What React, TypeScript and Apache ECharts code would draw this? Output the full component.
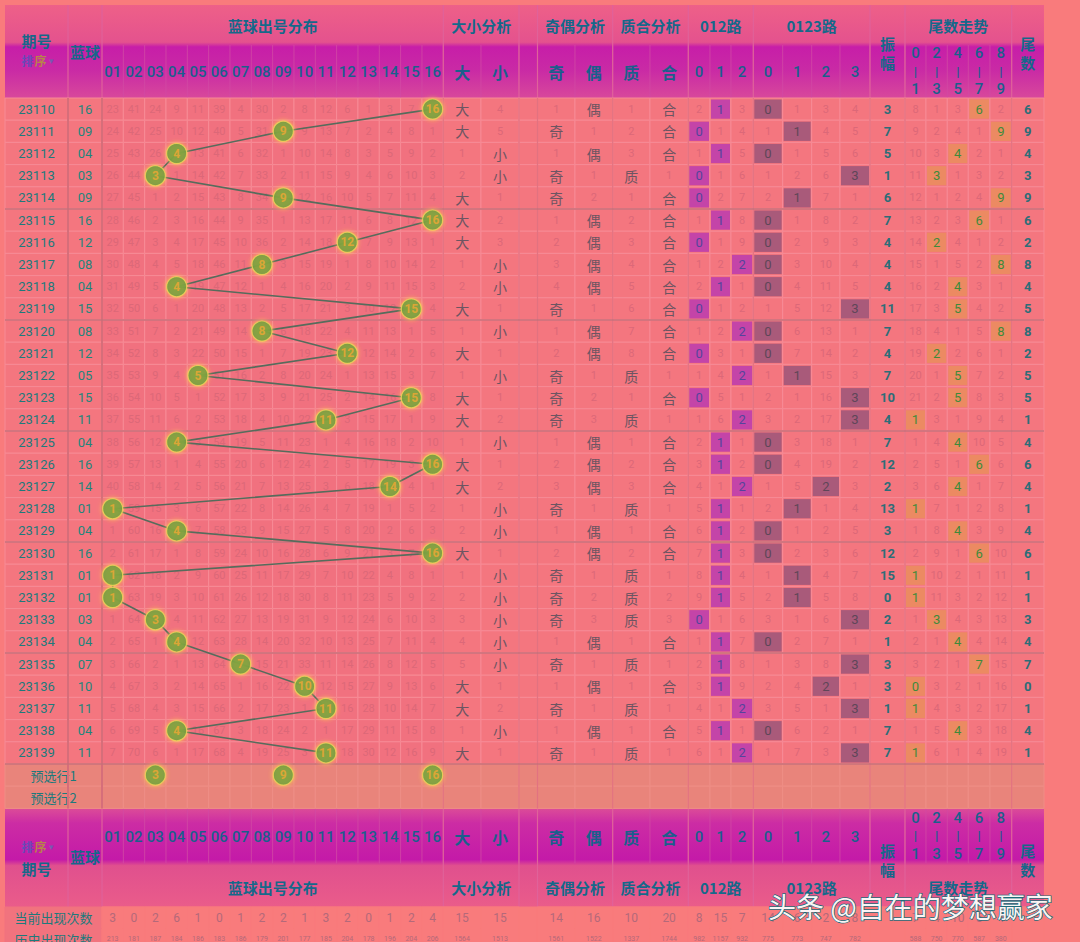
import React, { useEffect, useRef } from "react";
import * as echarts from "echarts";

// ---------------- DATA ----------------
const periods = [
  "23110", "23111", "23112", "23113", "23114", "23115", "23116", "23117", "23118", "23119",
  "23120", "23121", "23122", "23123", "23124", "23125", "23126", "23127", "23128", "23129",
  "23130", "23131", "23132", "23133", "23134", "23135", "23136", "23137", "23138", "23139",
];
const blueBalls = [16, 9, 4, 3, 9, 16, 12, 8, 4, 15, 8, 12, 5, 15, 11, 4, 16, 14, 1, 4, 16, 1, 1, 3, 4, 7, 10, 11, 4, 11];
const numberLabels = ["01", "02", "03", "04", "05", "06", "07", "08", "09", "10", "11", "12", "13", "14", "15", "16"];

// miss counts for 01..16, 0 = drawn (ball shown)
const missNumbers = [
  [23, 41, 24, 9, 11, 39, 4, 30, 2, 8, 12, 6, 1, 3, 7, 0],
  [24, 42, 25, 10, 12, 40, 5, 31, 0, 9, 13, 7, 2, 4, 8, 1],
  [25, 43, 26, 0, 13, 41, 6, 32, 1, 10, 14, 8, 3, 5, 9, 2],
  [26, 44, 0, 1, 14, 42, 7, 33, 2, 11, 15, 9, 4, 6, 10, 3],
  [27, 45, 1, 2, 15, 43, 8, 34, 0, 12, 16, 10, 5, 7, 11, 4],
  [28, 46, 2, 3, 16, 44, 9, 35, 1, 13, 17, 11, 6, 8, 12, 0],
  [29, 47, 3, 4, 17, 45, 10, 36, 2, 14, 18, 0, 7, 9, 13, 1],
  [30, 48, 4, 5, 18, 46, 11, 0, 3, 15, 19, 1, 8, 10, 14, 2],
  [31, 49, 5, 0, 19, 47, 12, 1, 4, 16, 20, 2, 9, 11, 15, 3],
  [32, 50, 6, 1, 20, 48, 13, 2, 5, 17, 21, 3, 10, 12, 0, 4],
  [33, 51, 7, 2, 21, 49, 14, 0, 6, 18, 22, 4, 11, 13, 1, 5],
  [34, 52, 8, 3, 22, 50, 15, 1, 7, 19, 23, 0, 12, 14, 2, 6],
  [35, 53, 9, 4, 0, 51, 16, 2, 8, 20, 24, 1, 13, 15, 3, 7],
  [36, 54, 10, 5, 1, 52, 17, 3, 9, 21, 25, 2, 14, 16, 0, 8],
  [37, 55, 11, 6, 2, 53, 18, 4, 10, 22, 0, 3, 15, 17, 1, 9],
  [38, 56, 12, 0, 3, 54, 19, 5, 11, 23, 1, 4, 16, 18, 2, 10],
  [39, 57, 13, 1, 4, 55, 20, 6, 12, 24, 2, 5, 17, 19, 3, 0],
  [40, 58, 14, 2, 5, 56, 21, 7, 13, 25, 3, 6, 18, 0, 4, 1],
  [0, 59, 15, 3, 6, 57, 22, 8, 14, 26, 4, 7, 19, 1, 5, 2],
  [1, 60, 16, 0, 7, 58, 23, 9, 15, 27, 5, 8, 20, 2, 6, 3],
  [2, 61, 17, 1, 8, 59, 24, 10, 16, 28, 6, 9, 21, 3, 7, 0],
  [0, 62, 18, 2, 9, 60, 25, 11, 17, 29, 7, 10, 22, 4, 8, 1],
  [0, 63, 19, 3, 10, 61, 26, 12, 18, 30, 8, 11, 23, 5, 9, 2],
  [1, 64, 0, 4, 11, 62, 27, 13, 19, 31, 9, 12, 24, 6, 10, 3],
  [2, 65, 1, 0, 12, 63, 28, 14, 20, 32, 10, 13, 25, 7, 11, 4],
  [3, 66, 2, 1, 13, 64, 0, 15, 21, 33, 11, 14, 26, 8, 12, 5],
  [4, 67, 3, 2, 14, 65, 1, 16, 22, 0, 12, 15, 27, 9, 13, 6],
  [5, 68, 4, 3, 15, 66, 2, 17, 23, 1, 0, 16, 28, 10, 14, 7],
  [6, 69, 5, 0, 16, 67, 3, 18, 24, 2, 1, 17, 29, 11, 15, 8],
  [7, 70, 6, 1, 17, 68, 4, 19, 25, 3, 0, 18, 30, 12, 16, 9],
];

// 0 = hit (label shown)
const bigMiss = [0, 0, 1, 2, 0, 0, 0, 1, 2, 0, 1, 0, 1, 0, 0, 1, 0, 0, 1, 2, 0, 1, 2, 3, 4, 5, 0, 0, 1, 0];
const smallMiss = [4, 5, 0, 0, 1, 2, 3, 0, 0, 1, 0, 1, 0, 1, 2, 0, 1, 2, 0, 0, 1, 0, 0, 0, 0, 0, 1, 2, 0, 1];
const oddMiss = [1, 0, 1, 0, 0, 1, 2, 3, 4, 0, 1, 2, 0, 0, 0, 1, 2, 3, 0, 1, 2, 0, 0, 0, 1, 0, 1, 0, 1, 0];
const evenMiss = [0, 1, 0, 1, 2, 0, 0, 0, 0, 1, 0, 0, 1, 2, 3, 0, 0, 0, 1, 0, 0, 1, 2, 3, 0, 1, 0, 1, 0, 1];
const primeMiss = [1, 2, 3, 0, 1, 2, 3, 4, 5, 6, 7, 8, 0, 1, 0, 1, 2, 3, 0, 1, 2, 0, 0, 0, 1, 0, 1, 0, 1, 0];
const compositeMiss = [0, 0, 0, 1, 0, 0, 0, 0, 0, 0, 0, 0, 1, 0, 1, 0, 0, 0, 1, 0, 0, 1, 2, 3, 0, 1, 0, 1, 0, 1];

const road3Miss = [
  [2, 0, 3], [0, 1, 4], [1, 0, 5], [0, 1, 6], [0, 2, 7], [1, 0, 8], [0, 1, 9], [1, 2, 0], [2, 0, 1], [0, 1, 2],
  [1, 2, 0], [0, 3, 1], [1, 4, 0], [0, 5, 1], [1, 6, 0], [2, 0, 1], [3, 0, 2], [4, 1, 0], [5, 0, 1], [6, 0, 2],
  [7, 0, 3], [8, 0, 4], [9, 0, 5], [0, 1, 6], [1, 0, 7], [2, 0, 8], [3, 0, 9], [4, 1, 0], [5, 0, 1], [6, 1, 0],
];
const road4Miss = [
  [0, 1, 3, 4], [1, 0, 4, 5], [0, 1, 5, 6], [1, 2, 6, 0], [2, 0, 7, 1], [0, 1, 8, 2], [0, 2, 9, 3], [0, 3, 10, 4], [0, 4, 11, 5], [1, 5, 12, 0],
  [0, 6, 13, 1], [0, 7, 14, 2], [1, 0, 15, 3], [2, 1, 16, 0], [3, 2, 17, 0], [0, 3, 18, 1], [0, 4, 19, 2], [1, 5, 0, 3], [2, 0, 1, 4], [0, 1, 2, 5],
  [0, 2, 3, 6], [1, 0, 4, 7], [2, 0, 5, 8], [3, 1, 6, 0], [0, 2, 7, 1], [1, 3, 8, 0], [2, 4, 0, 1], [3, 5, 1, 0], [0, 6, 2, 1], [1, 7, 3, 0],
];
const amplitude = [3, 7, 5, 1, 6, 7, 4, 4, 4, 11, 7, 4, 7, 10, 4, 7, 12, 2, 13, 3, 12, 15, 0, 2, 1, 3, 3, 1, 7, 7];
const tailGroupMiss = [
  [8, 1, 3, 0, 2], [9, 2, 4, 1, 0], [10, 3, 0, 2, 1], [11, 0, 1, 3, 2], [12, 1, 2, 4, 0],
  [13, 2, 3, 0, 1], [14, 0, 4, 1, 2], [15, 1, 5, 2, 0], [16, 2, 0, 3, 1], [17, 3, 0, 4, 2],
  [18, 4, 1, 5, 0], [19, 0, 2, 6, 1], [20, 1, 0, 7, 2], [21, 2, 0, 8, 3], [0, 3, 1, 9, 4],
  [1, 4, 0, 10, 5], [2, 5, 1, 0, 6], [3, 6, 0, 1, 7], [0, 7, 1, 2, 8], [1, 8, 0, 3, 9],
  [2, 9, 1, 0, 10], [0, 10, 2, 1, 11], [0, 11, 3, 2, 12], [1, 0, 4, 3, 13], [2, 1, 0, 4, 14],
  [3, 2, 1, 0, 15], [0, 3, 2, 1, 16], [0, 4, 3, 2, 17], [1, 5, 0, 3, 18], [0, 6, 1, 4, 19],
];
const tails = [6, 9, 4, 3, 9, 6, 2, 8, 4, 5, 8, 2, 5, 5, 1, 4, 6, 4, 1, 4, 6, 1, 1, 3, 4, 7, 0, 1, 4, 1];

const preselect1 = [3, 9, 16];
const preselectLabels = ["预选行1", "预选行2"];

const currentCounts = ["3", "0", "2", "6", "1", "0", "1", "2", "2", "1", "3", "2", "0", "1", "2", "4", "15", "15", "14", "16", "10", "20", "8", "15", "7", "14", "6", "2", "8", "", "7", "4", "10", "5", "4", ""];
const historyCounts = ["213", "181", "187", "184", "186", "183", "186", "179", "201", "177", "185", "204", "178", "196", "204", "206", "1564", "1513", "1561", "1522", "1337", "1744", "982", "1157", "932", "775", "773", "747", "782", "", "588", "750", "770", "587", "380", ""];
const statLabels = ["当前出现次数", "历史出现次数"];

const groupTitles = ["蓝球出号分布", "大小分析", "奇偶分析", "质合分析", "012路", "0123路", "尾数走势"];
const subLabels = ["大", "小", "奇", "偶", "质", "合", "0", "1", "2", "0", "1", "2", "3"];
const tailHeadTop = ["0", "2", "4", "6", "8"];
const tailHeadBottom = ["1", "3", "5", "7", "9"];

// ---------------- LAYOUT ----------------
const W = 1080;
const H = 942;
const ROW_H = 22.2;
const BODY_TOP = 98;
const LEFT = 5;
const colWidths = [
  63, 34,
  21.33, 21.33, 21.33, 21.33, 21.33, 21.33, 21.33, 21.33, 21.33, 21.33, 21.33, 21.33, 21.33, 21.33, 21.33, 21.33,
  37.7, 38, 18.5, 37.5, 37.7, 37.3, 38.3,
  21.7, 21, 22.3, 29.4, 29, 28.3, 30,
  35, 21, 21.3, 21, 21.7, 21.7, 32.3,
];
const edges: number[] = [LEFT];
colWidths.forEach((w) => edges.push(edges[edges.length - 1] + w));
const cx = (c: number) => (edges[c] + edges[c + 1]) / 2;
const uy = (px: number) => (px - BODY_TOP) / ROW_H;
const statCols = [
  2, 3, 4, 5, 6, 7, 8, 9, 10, 11, 12, 13, 14, 15, 16, 17, 18, 19,
  21, 22, 23, 24, 25, 26, 27, 28, 29, 30, 31, 32, 33, 34, 35, 36, 37, 38,
];

const FONT = "Roboto, 'Noto Sans CJK SC', sans-serif";
const CJK = "'Noto Sans CJK SC', 'Noto Sans', sans-serif";

const C = {
  page: "#f97b7c",
  body: "#f4767f",
  bodyNum: "#f1717f",
  pre: "#e9847b",
  line: "#f78b96",
  miss: "#dc6878",
  teal: "#1d7a7c",
  teal2: "#1f857c",
  label: "#6d5562",
  bold: "#2d6d78",
  hl3: "#c444a8",
  hl3t: "#55449c",
  hl4: "#a95a7a",
  hl4t: "#5f4658",
  hlT: "#ec8a62",
  hlTt: "#3f8a3a",
  head: "#15688a",
  headNum: "#1a5f8c",
  statVal: "#b4697a",
};

type Cell = {
  x0: number; x1: number; y0: number; y1: number;
  text: string; color: string; size: number; weight?: string; font?: string;
  bg: string; stroke: string; hl?: string;
};

function buildCells(): Cell[] {
  const cells: Cell[] = [];
  const add = (c0: number, c1: number, y0: number, y1: number, text: string, color: string, size: number, bg: string, extra: Partial<Cell> = {}) => {
    cells.push({ x0: edges[c0], x1: edges[c1], y0, y1, text, color, size, bg, stroke: C.line, ...extra });
  };
  const pair = (c: number, r: number, miss: number, label: string) => {
    add(c, c + 1, r, r + 1, miss === 0 ? label : String(miss), miss === 0 ? C.label : C.miss, miss === 0 ? 14 : 11, C.body, miss === 0 ? { font: CJK } : {});
  };
  periods.forEach((p, r) => {
    add(0, 1, r, r + 1, p, C.teal, 13, C.body);
    add(1, 2, r, r + 1, String(blueBalls[r]).padStart(2, "0"), C.teal2, 13, C.body);
    missNumbers[r].forEach((m, n) => add(2 + n, 3 + n, r, r + 1, m === 0 ? "" : String(m), C.miss, 11, C.bodyNum));
    pair(18, r, bigMiss[r], "大");
    pair(19, r, smallMiss[r], "小");
    add(20, 21, r, r + 1, "", C.miss, 11, C.body);
    pair(21, r, oddMiss[r], "奇");
    pair(22, r, evenMiss[r], "偶");
    pair(23, r, primeMiss[r], "质");
    pair(24, r, compositeMiss[r], "合");
    road3Miss[r].forEach((v, k) => add(25 + k, 26 + k, r, r + 1, v === 0 ? String(k) : String(v), v === 0 ? C.hl3t : C.miss, v === 0 ? 13 : 11, C.body, v === 0 ? { hl: C.hl3 } : {}));
    road4Miss[r].forEach((v, k) => add(28 + k, 29 + k, r, r + 1, v === 0 ? String(k) : String(v), v === 0 ? C.hl4t : C.miss, v === 0 ? 13 : 11, C.body, v === 0 ? { hl: C.hl4 } : {}));
    add(32, 33, r, r + 1, String(amplitude[r]), C.bold, 13, C.body, { weight: "bold" });
    tailGroupMiss[r].forEach((v, g) => add(33 + g, 34 + g, r, r + 1, v === 0 ? String(tails[r]) : String(v), v === 0 ? C.hlTt : C.miss, v === 0 ? 13 : 11, C.body, v === 0 ? { hl: C.hlT } : {}));
    add(38, 39, r, r + 1, String(tails[r]), C.bold, 13, C.body, { weight: "bold" });
  });
  preselectLabels.forEach((lab, i) => {
    const r = periods.length + i;
    add(0, 2, r, r + 1, lab, C.teal, 13, C.pre, { font: CJK, stroke: "#ee8e86" });
    for (let c = 2; c < 39; c++) add(c, c + 1, r, r + 1, "", C.miss, 11, C.pre, { stroke: "#ee8e86" });
  });
  const statTops = [uy(907), uy(928.5), uy(950)];
  [currentCounts, historyCounts].forEach((vals, i) => {
    const y0 = statTops[i];
    const y1 = statTops[i + 1];
    add(0, 2, y0, y1, statLabels[i], C.teal, 13, "#f1737e", { font: CJK, stroke: "#f1737e" });
    add(2, 39, y0, y1, "", C.statVal, 12, C.page, { stroke: C.page });
    statCols.forEach((c, k) => add(c, c + 1, y0, y1, vals[k], C.statVal, i === 0 ? 12 : 7, C.page, { stroke: C.page }));
  });
  return cells;
}

type Sep = { x0: number; y0: number; x1: number; y1: number; color: string; width: number };
function buildSeparators(): Sep[] {
  const seps: Sep[] = [];
  [1, 2].forEach((c) => seps.push({ x0: edges[c], y0: 0, x1: edges[c], y1: 32, color: "#d66e7a", width: 2 }));
  [18, 20, 21, 23, 25, 28, 32, 33, 38].forEach((c) => seps.push({ x0: edges[c], y0: 0, x1: edges[c], y1: 32, color: "#e27280", width: 1.2 }));
  [5, 10, 15, 20, 25, 30].forEach((r) => seps.push({ x0: edges[0], y0: r, x1: edges[39], y1: r, color: "#c7707a", width: 1.6 }));
  return seps;
}

function headerGraphics(): any[] {
  const els: any[] = [];
  const txt = (text: string, x: number, y: number, size: number, color: string, weight = "bold", font = CJK) =>
    els.push({ type: "text", x, y, style: { text, align: "center", verticalAlign: "middle", fontSize: size, fontWeight: weight, fontFamily: font, fill: color } });
  const vline = (x: number, y0: number, y1: number, color: string, w: number) =>
    els.push({ type: "line", shape: { x1: x, y1: y0, x2: x, y2: y1 }, style: { stroke: color, lineWidth: w } });
  const sortTxt = (x: number, y: number) => {
    txt("排", x - 9, y, 12, "#6a48b8");
    txt("序", x + 4, y, 12, "#b8844a");
    txt("▾", x + 15, y, 9, "#7a58b0", "normal");
  };
  const groupSpans = [[2, 18], [18, 20], [21, 23], [23, 25], [25, 28], [28, 32], [33, 38]];
  const subCols = [18, 19, 21, 22, 23, 24, 25, 26, 27, 28, 29, 30, 31];
  const groupEdges = [1, 2, 18, 20, 21, 23, 25, 28, 32, 33, 38];

  const draw = (top: number, bottom: number, isTop: boolean) => {
    const stops = isTop
      ? [
          { offset: 0, color: "#ee6088" }, { offset: 0.4, color: "#e4528e" }, { offset: 0.45, color: "#c71ea8" },
          { offset: 0.7, color: "#c92aa5" }, { offset: 1, color: "#d8489b" },
        ]
      : [
          { offset: 0, color: "#dc4c98" }, { offset: 0.15, color: "#cc2ca4" }, { offset: 0.52, color: "#c41aa8" },
          { offset: 0.58, color: "#e0508e" }, { offset: 1, color: "#ea5c8a" },
        ];
    els.push({
      type: "rect", shape: { x: edges[0], y: top, width: edges[39] - edges[0], height: bottom - top },
      style: { fill: new echarts.graphic.LinearGradient(0, 0, 0, 1, stops) },
    });
    const subTop = isTop ? top + 40 : top;
    const subBot = isTop ? bottom : top + 55;
    for (let c = 2; c < 38; c++) vline(edges[c + 1], subTop, subBot, "#d24aa4", 0.8);
    groupEdges.forEach((c) => vline(edges[c], top, bottom, "#e0629a", 1.2));
    const titleY = isTop ? top + 20 : bottom - 20;
    const subY = isTop ? top + 67 : top + 29;
    groupSpans.forEach(([a, b], i) => txt(groupTitles[i], (edges[a] + edges[b]) / 2, titleY, 15, C.head));
    numberLabels.forEach((lab, n) => txt(lab, cx(2 + n), subY, 15, C.headNum, "500", FONT));
    subCols.forEach((c, i) => txt(subLabels[i], cx(c), subY, i < 6 ? 16 : 15, C.headNum, i < 6 ? "bold" : "500", i < 6 ? CJK : FONT));
    if (isTop) {
      txt("期号", cx(0), top + 35, 15, C.head);
      sortTxt(cx(0), top + 55);
      txt("蓝球", cx(1), top + 46, 15, C.head);
      txt("振", cx(32), top + 38, 15, C.head);
      txt("幅", cx(32), top + 57, 15, C.head);
      txt("尾", cx(38), top + 38, 15, C.head);
      txt("数", cx(38), top + 57, 15, C.head);
      tailHeadTop.forEach((d, g) => {
        txt(d, cx(33 + g), top + 48, 15, C.headNum, "500", FONT);
        txt("|", cx(33 + g), top + 66, 13, C.headNum, "bold", FONT);
        txt(tailHeadBottom[g], cx(33 + g), top + 84, 15, C.headNum, "500", FONT);
      });
    } else {
      sortTxt(cx(0), top + 38);
      txt("期号", cx(0), top + 60, 15, C.head);
      txt("蓝球", cx(1), top + 48, 15, C.head);
      txt("振", cx(32), top + 42, 15, C.head);
      txt("幅", cx(32), top + 61, 15, C.head);
      txt("尾", cx(38), top + 42, 15, C.head);
      txt("数", cx(38), top + 61, 15, C.head);
      tailHeadTop.forEach((d, g) => {
        txt(d, cx(33 + g), top + 10, 15, C.headNum, "500", FONT);
        txt("|", cx(33 + g), top + 27, 13, C.headNum, "bold", FONT);
        txt(tailHeadBottom[g], cx(33 + g), top + 46, 15, C.headNum, "500", FONT);
      });
    }
  };
  draw(5, BODY_TOP, true);
  draw(BODY_TOP + 32 * ROW_H, 907, false);
  els.push({
    type: "text", x: 768, y: 906, z: 100,
    style: {
      text: "头条 @自在的梦想赢家", align: "left", verticalAlign: "middle",
      fontSize: 28, fontFamily: CJK, fill: "#fbf4f4", stroke: "#1d6c7a", lineWidth: 1.4,
    },
  });
  return els;
}

export default function App() {
  const ref = useRef<HTMLDivElement>(null);
  useEffect(() => {
    if (!ref.current) return;
    const chart = echarts.init(ref.current, undefined, { renderer: "svg", width: W, height: H });
    const cells = buildCells();
    const seps = buildSeparators();
    const ballPoints = blueBalls.map((b, r) => [cx(1 + b), r + 0.5, b]);
    const preRow = periods.length + 0.5;
    const prePoints = preselect1.map((b) => [cx(1 + b), preRow, b]);

    const ballStyle = {
      color: "#4d9a3d",
      borderColor: "#f2d45a",
      borderWidth: 1.2,
      shadowBlur: 5,
      shadowColor: "rgba(255,214,70,0.95)",
    };
    const ballLabel = {
      show: true,
      position: "inside",
      formatter: (p: any) => String(p.value[2]),
      color: "#f3a733",
      fontSize: 12,
      fontWeight: "bold",
      fontFamily: FONT,
    };

    chart.setOption({
      animation: false,
      backgroundColor: C.page,
      grid: { left: 0, right: 0, top: 0, bottom: 0, containLabel: false },
      xAxis: { type: "value", min: 0, max: W, show: false },
      yAxis: { type: "value", inverse: true, min: -BODY_TOP / ROW_H, max: (H - BODY_TOP) / ROW_H, show: false },
      graphic: headerGraphics(),
      series: [
        {
          type: "custom",
          silent: true,
          z: 1,
          encode: { x: [0, 2], y: [1, 3] },
          data: cells.map((c) => [c.x0, c.y0, c.x1, c.y1]),
          renderItem: (params: any, api: any) => {
            const it = cells[params.dataIndex];
            const p0 = api.coord([it.x0, it.y0]);
            const p1 = api.coord([it.x1, it.y1]);
            const w = p1[0] - p0[0];
            const h = p1[1] - p0[1];
            const children: any[] = [
              { type: "rect", shape: { x: p0[0], y: p0[1], width: w, height: h }, style: { fill: it.bg, stroke: it.stroke, lineWidth: 1 } },
            ];
            if (it.hl) {
              children.push({ type: "rect", shape: { x: p0[0] + 1, y: p0[1] + 1.5, width: w - 2, height: h - 3 }, style: { fill: it.hl } });
            }
            if (it.text) {
              children.push({
                type: "text",
                style: {
                  text: it.text, x: p0[0] + w / 2, y: p0[1] + h / 2, align: "center", verticalAlign: "middle",
                  fill: it.color, fontSize: it.size, fontWeight: it.weight || "normal", fontFamily: it.font || FONT,
                },
              });
            }
            return { type: "group", children };
          },
        },
        {
          type: "custom",
          silent: true,
          z: 2,
          encode: { x: [0, 2], y: [1, 3] },
          data: seps.map((s) => [s.x0, s.y0, s.x1, s.y1]),
          renderItem: (params: any, api: any) => {
            const s = seps[params.dataIndex];
            const a = api.coord([s.x0, s.y0]);
            const b = api.coord([s.x1, s.y1]);
            return { type: "line", shape: { x1: a[0], y1: a[1], x2: b[0], y2: b[1] }, style: { stroke: s.color, lineWidth: s.width } };
          },
        },
        {
          type: "line",
          z: 3,
          silent: true,
          symbol: "none",
          data: ballPoints,
          lineStyle: { color: "#566c5c", width: 1.6 },
        },
        {
          type: "scatter",
          z: 4,
          silent: true,
          symbol: "circle",
          symbolSize: 20,
          data: ballPoints,
          itemStyle: ballStyle,
          label: ballLabel,
        },
        {
          type: "scatter",
          z: 4,
          silent: true,
          symbol: "circle",
          symbolSize: 20,
          data: prePoints,
          itemStyle: ballStyle,
          label: ballLabel,
        },
      ],
    });
    return () => chart.dispose();
  }, []);
  return <div ref={ref} style={{ position: "absolute", left: 0, top: 0, width: W, height: H }} />;
}
